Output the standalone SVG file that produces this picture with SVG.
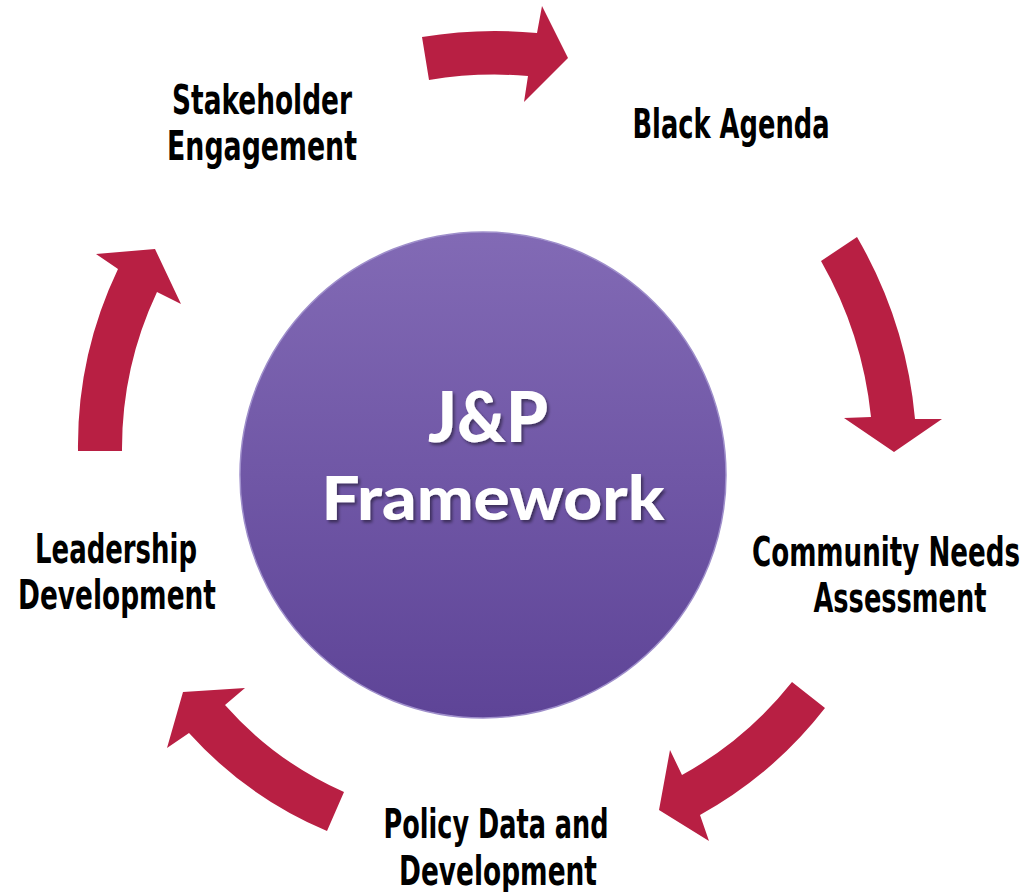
<svg xmlns="http://www.w3.org/2000/svg" width="1030" height="892" viewBox="0 0 1030 892">
  <defs>
    <linearGradient id="hubGrad" x1="0" y1="0" x2="0" y2="1">
      <stop offset="0" stop-color="#826AB5"/>
      <stop offset="1" stop-color="#5E4497"/>
    </linearGradient>
    <filter id="textShadow" x="-10%" y="-20%" width="120%" height="140%">
      <feDropShadow dx="2" dy="2.5" stdDeviation="1.5" flood-color="#000000" flood-opacity="0.45"/>
    </filter>
  </defs>
  <style>
    .arrow { fill: #B81F43; stroke: none; }
    .label { font-family: "Liberation Sans Narrow", "DejaVu Sans Condensed", "Liberation Sans", sans-serif; font-weight: bold; font-size: 41px; fill: #000000; text-anchor: middle; }
    .hubText { font-family: Lato, "Open Sans", "Liberation Sans", sans-serif; font-weight: 900; fill: #FFFFFF; text-anchor: middle; }
  </style>
  <rect x="0" y="0" width="1030" height="892" fill="#FFFFFF"/>

  <g id="connectors">
    <path id="arrow-stakeholder-black" class="arrow" d="M 422,37 A 443 443 0 0 1 537,33 L 542,6 L 568,58 L 524,102 L 528,76 A 400 400 0 0 0 429,80 Z"/>
    <path id="arrow-black-community" class="arrow" d="M 821,261 L 857,237 A 440 440 0 0 1 915,419 L 942,419 L 894,452 L 844,418 L 871,417 A 396 396 0 0 0 821,261 Z"/>
    <path id="arrow-community-policy" class="arrow" d="M 792,682 L 825,708 A 410 410 0 0 1 700,815 L 709,841 L 659,810 L 670,750 L 682,775 A 366 366 0 0 0 792,682 Z"/>
    <path id="arrow-policy-leadership" class="arrow" d="M 344,792 A 346 346 0 0 1 225,705 L 245,688 L 183,692 L 167,748 L 189,733 A 390 390 0 0 0 327,831 Z"/>
    <path id="arrow-leadership-stakeholder" class="arrow" d="M 78,451 A 410 410 0 0 1 118,269 L 96,254 L 155,249 L 181,304 L 157,292 A 368 368 0 0 0 122,451 Z"/>
  </g>

  <g id="hub">
    <circle cx="483" cy="475" r="243" fill="url(#hubGrad)" stroke="#9F8FCB" stroke-width="1.5"/>
    <g filter="url(#textShadow)">
      <text class="hubText" x="488" y="442" font-size="70" textLength="120" lengthAdjust="spacingAndGlyphs">J&amp;P</text>
      <text class="hubText" x="493" y="520" font-size="60" textLength="343" lengthAdjust="spacingAndGlyphs">Framework</text>
    </g>
  </g>

  <g id="node-stakeholder">
    <text class="label" x="262" y="114" textLength="180" lengthAdjust="spacingAndGlyphs">Stakeholder</text>
    <text class="label" x="262" y="160" textLength="190" lengthAdjust="spacingAndGlyphs">Engagement</text>
  </g>
  <g id="node-black-agenda">
    <text class="label" x="731" y="138" textLength="197" lengthAdjust="spacingAndGlyphs">Black Agenda</text>
  </g>
  <g id="node-community">
    <text class="label" x="886" y="566" textLength="268" lengthAdjust="spacingAndGlyphs">Community Needs</text>
    <text class="label" x="900" y="612" textLength="173" lengthAdjust="spacingAndGlyphs">Assessment</text>
  </g>
  <g id="node-policy">
    <text class="label" x="496" y="838" textLength="225" lengthAdjust="spacingAndGlyphs">Policy Data and</text>
    <text class="label" x="498" y="885" textLength="198" lengthAdjust="spacingAndGlyphs">Development</text>
  </g>
  <g id="node-leadership">
    <text class="label" x="116" y="563" textLength="162" lengthAdjust="spacingAndGlyphs">Leadership</text>
    <text class="label" x="117" y="609" textLength="198" lengthAdjust="spacingAndGlyphs">Development</text>
  </g>
</svg>
